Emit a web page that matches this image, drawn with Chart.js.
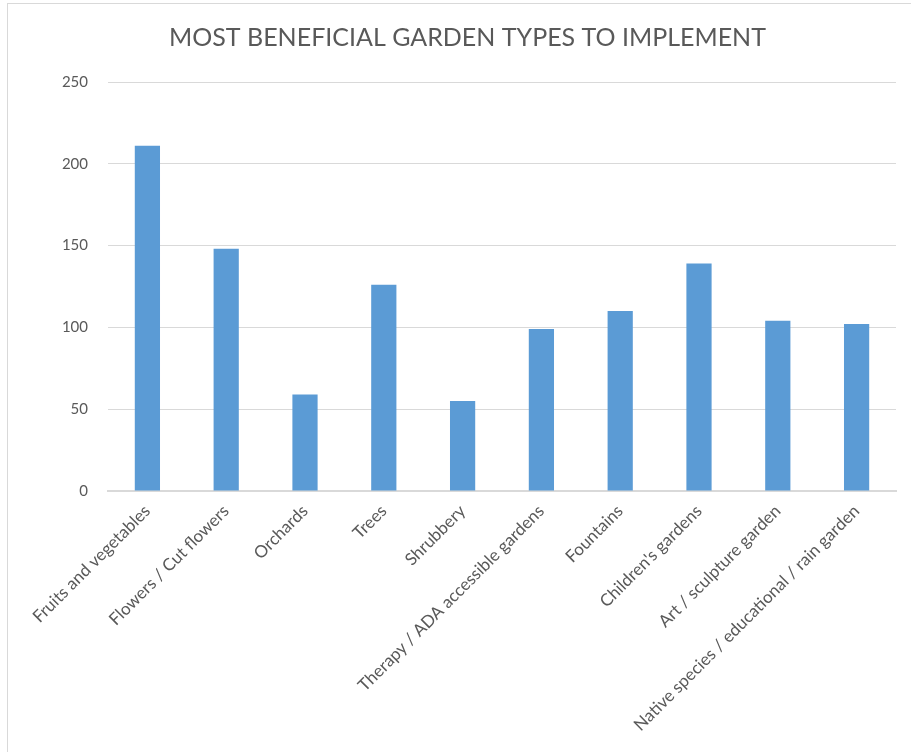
<!DOCTYPE html>
<html lang="en">

<head>
    <meta charset="UTF-8">
    <title>Most Beneficial Garden Types</title>
    <style>
        body {
            margin: 0;
            background: #fff;
            overflow: hidden;
        }

        .frame {
            position: absolute;
            left: 7px;
            top: 3px;
            width: 1000px;
            height: 1000px;
            border-left: 1px solid #d9d9d9;
            border-top: 1px solid #d9d9d9;
        }

        .wrap {
            position: absolute;
            left: 0;
            top: 0;
            width: 911px;
            height: 752px;
        }
    </style>
</head>

<body>
    <div class="frame"></div>
    <div class="wrap">
        <canvas id="gardenChart" width="911" height="752"></canvas>
    </div>

    <script src="https://cdn.jsdelivr.net/npm/chart.js"></script>
    <script>
        const categories = [
            "Fruits and vegetables",
            "Flowers / Cut flowers",
            "Orchards",
            "Trees",
            "Shrubbery",
            "Therapy / ADA accessible gardens",
            "Fountains",
            "Children's gardens",
            "Art / sculpture garden",
            "Native species / educational / rain garden"
        ];
        const votes = [211, 148, 59, 126, 55, 99, 110, 139, 104, 102];
        const yMin = 0;
        const yMax = 250;
        const yStep = 50;

        const fontFamily = "Lato, 'Liberation Sans', sans-serif";
        const textColor = "#595959";

        let ctx = document.getElementById("gardenChart").getContext("2d");
        let chart = new Chart(ctx, {
            type: "bar",
            data: {
                labels: categories,
                datasets: [{
                    label: "Votes",
                    data: votes,
                    backgroundColor: "#5b9bd5",
                    borderWidth: 0,
                    barPercentage: 0.32,
                    categoryPercentage: 1.0
                }]
            },
            options: {
                responsive: false,
                animation: false,
                layout: {
                    padding: { left: 39, right: 15, top: 23, bottom: 15 }
                },
                plugins: {
                    legend: { display: false },
                    tooltip: { enabled: false },
                    title: {
                        display: true,
                        text: "MOST BENEFICIAL GARDEN TYPES TO IMPLEMENT",
                        color: textColor,
                        font: { family: fontFamily, size: 25, weight: "normal" },
                        padding: { top: 0, bottom: 29 }
                    }
                },
                scales: {
                    x: {
                        grid: { display: false },
                        border: { color: "#d9d9d9", width: 2 },
                        ticks: {
                            color: textColor,
                            font: { family: fontFamily, size: 17 },
                            minRotation: 45,
                            maxRotation: 45,
                            autoSkip: false,
                            padding: 2
                        }
                    },
                    y: {
                        min: yMin,
                        max: yMax,
                        grid: { color: "#d9d9d9", drawTicks: false },
                        border: { display: false },
                        ticks: {
                            stepSize: yStep,
                            color: textColor,
                            font: { family: fontFamily, size: 15 },
                            padding: 20
                        },
                        afterFit: (scale) => { scale.width = 69; }
                    }
                }
            }
        });
    </script>
</body>

</html>
